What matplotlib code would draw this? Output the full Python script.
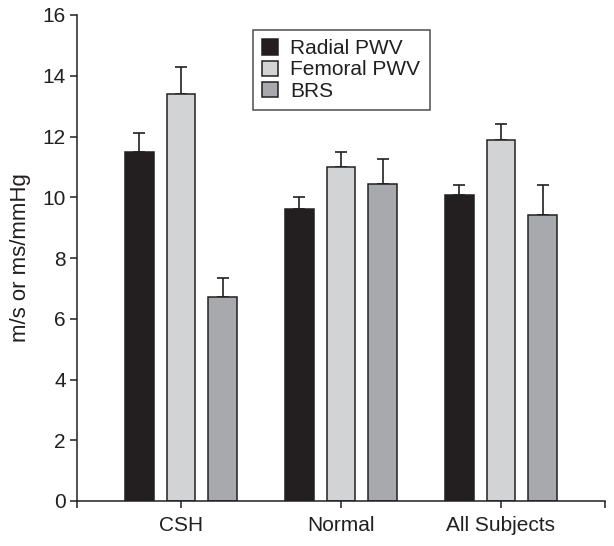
## Grouped bar chart: PWV and BRS by group
import numpy as np
import matplotlib.pyplot as plt
from matplotlib import rcParams

rcParams['font.family'] = 'Liberation Sans'

##------ data ------##
groups = ['CSH', 'Normal', 'All Subjects']
series = ['Radial PWV', 'Femoral PWV', 'BRS']
radial = [11.5, 9.6, 10.08]
femoral = [13.4, 11.0, 11.88]
brs = [6.73, 10.44, 9.43]
radial_err = [0.6, 0.4, 0.31]
femoral_err = [0.9, 0.5, 0.52]
brs_err = [0.6, 0.83, 0.96]

values = [radial, femoral, brs]
errors = [radial_err, femoral_err, brs_err]
colors = ['#231f20', '#d2d3d5', '#a7a9ac']

fig = plt.figure(figsize=(6.14, 5.46), dpi=100)
ax = fig.add_axes([77/614, 1 - 501/546, (605 - 77)/614, (501 - 15)/546])

x = np.arange(1, len(groups) + 1)
width = 0.18
step = 0.26
for i, (vals, errs, col, name) in enumerate(zip(values, errors, colors, series)):
    pos = x + (i - 1) * step
    ax.bar(pos, vals, width, color=col, edgecolor='#231f20', linewidth=1.1,
           label=name, zorder=2)
    ax.errorbar(pos, vals, yerr=[np.zeros(len(errs)), errs], fmt='none',
                ecolor='#231f20', elinewidth=1.2, capsize=4.5, capthick=1.2,
                zorder=1)

## axes styling
ax.set_xlim(0.35, 3.65)
ax.set_ylim(0, 16)
ax.set_yticks(np.arange(0, 17, 2))
ax.set_xticks([0.35, 1, 2, 3, 3.65])
ax.set_xticklabels(['', groups[0], groups[1], groups[2], ''])
ax.tick_params(axis='both', labelsize=15, width=1.1, length=5,
               color='#231f20', labelcolor='#231f20')
ax.tick_params(axis='x', pad=6)
ax.tick_params(axis='y', pad=3)
for s in ['top', 'right']:
    ax.spines[s].set_visible(False)
for s in ['left', 'bottom']:
    ax.spines[s].set_linewidth(1.1)
    ax.spines[s].set_color('#231f20')

ax.set_ylabel('m/s or ms/mmHg', fontsize=16, color='#231f20', labelpad=8)

leg = ax.legend(loc='upper left', bbox_to_anchor=(253/614, 1 - 30/546),
                bbox_transform=fig.transFigure, fontsize=15, frameon=True,
                fancybox=False, handlelength=0.75, handleheight=0.75,
                handletextpad=0.6, labelspacing=0.1, borderpad=0.45,
                borderaxespad=0)
leg.get_frame().set_edgecolor('#231f20')
leg.get_frame().set_linewidth(1.1)
for t in leg.get_texts():
    t.set_color('#231f20')

fig.savefig('out.png', dpi=100)
